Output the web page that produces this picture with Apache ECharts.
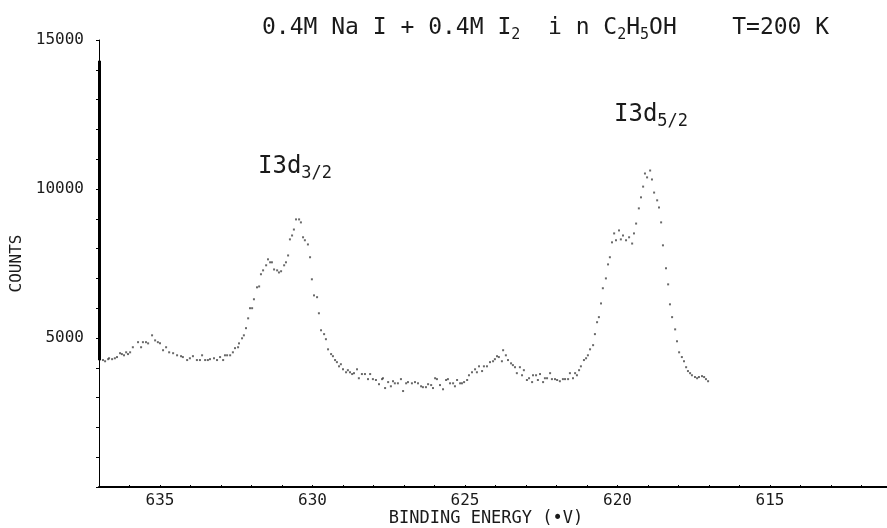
<!DOCTYPE html>
<html>
<head>
<meta charset="utf-8">
<script src="https://cdn.jsdelivr.net/npm/echarts@6/dist/echarts.min.js"></script>
<style>
html,body{margin:0;padding:0;background:#fff;}
#chart{width:887px;height:528px;}
</style>
</head>
<body>
<div id="chart"></div>
<script>
// Binding energy (eV) of each recorded point
const energy = [
636.97,636.87,636.80,636.70,636.67,636.57,636.48,636.41,636.31,636.25,
636.18,636.11,636.05,635.98,635.89,635.72,635.62,635.56,635.46,635.39,
635.26,635.16,635.07,635.00,634.90,634.80,634.70,634.57,634.44,634.31,
634.25,634.11,634.02,633.92,633.79,633.69,633.62,633.52,633.43,633.36,
633.23,633.13,633.03,632.93,632.87,632.80,632.70,632.61,632.54,632.44,
632.41,632.31,632.25,632.18,632.11,632.05,631.98,631.92,631.82,631.75,
631.69,631.62,631.52,631.46,631.39,631.33,631.26,631.16,631.10,631.03,
630.93,630.87,630.80,630.74,630.67,630.61,630.54,630.44,630.38,630.31,
630.25,630.15,630.08,630.02,629.95,629.85,629.79,629.72,629.62,629.56,
629.49,629.39,629.33,629.26,629.20,629.13,629.07,629.00,628.90,628.84,
628.77,628.70,628.64,628.54,628.48,628.38,628.28,628.18,628.11,628.02,
627.92,627.82,627.72,627.69,627.62,627.52,627.43,627.36,627.30,627.20,
627.10,627.03,626.93,626.87,626.74,626.64,626.54,626.44,626.38,626.28,
626.21,626.11,626.05,625.98,625.92,625.82,625.72,625.62,625.56,625.49,
625.39,625.33,625.26,625.16,625.10,625.03,624.93,624.87,624.77,624.67,
624.61,624.54,624.44,624.38,624.28,624.18,624.08,624.02,623.95,623.89,
623.79,623.75,623.66,623.59,623.49,623.43,623.36,623.30,623.20,623.13,
623.07,622.97,622.90,622.80,622.77,622.67,622.61,622.54,622.44,622.38,
622.31,622.21,622.15,622.05,621.98,621.89,621.79,621.72,621.62,621.56,
621.46,621.39,621.33,621.26,621.20,621.10,621.03,620.97,620.90,620.80,
620.74,620.67,620.61,620.54,620.48,620.38,620.31,620.25,620.18,620.11,
620.05,619.95,619.89,619.82,619.72,619.62,619.52,619.46,619.39,619.30,
619.23,619.16,619.10,619.03,618.93,618.87,618.80,618.70,618.64,618.57,
618.51,618.41,618.34,618.28,618.21,618.11,618.05,617.98,617.89,617.82,
617.75,617.69,617.62,617.56,617.46,617.39,617.33,617.23,617.16,617.10,
617.03
];
// Counts at each point
const counts = [
4290,4260,4220,4290,4320,4290,4320,4360,4490,4460,
4420,4520,4460,4520,4690,4860,4690,4860,4860,4820,
5090,4920,4860,4820,4590,4690,4520,4490,4420,4390,
4360,4260,4320,4390,4260,4260,4420,4260,4260,4290,
4320,4260,4360,4260,4420,4420,4420,4520,4660,4690,
4820,4990,5090,5330,5660,6000,6000,6300,6700,6730,
7140,7270,7440,7640,7540,7540,7300,7270,7200,7240,
7440,7540,7770,8310,8440,8640,8980,8980,8880,8380,
8280,8140,7710,6970,6430,6370,5830,5260,5130,4960,
4620,4460,4390,4260,4190,4050,4120,3950,3850,3920,
3850,3790,3820,3950,3650,3790,3790,3620,3790,3620,
3590,3450,3620,3650,3320,3520,3380,3550,3480,3480,
3620,3220,3480,3520,3480,3520,3480,3380,3350,3350,
3450,3420,3320,3650,3620,3420,3280,3590,3620,3480,
3480,3380,3590,3480,3480,3520,3590,3750,3850,3950,
3850,4050,3890,4050,4050,4190,4220,4290,4390,4360,
4220,4590,4420,4260,4150,4090,4020,3820,4020,3750,
3920,3590,3650,3520,3750,3750,3590,3790,3520,3650,
3650,3820,3620,3620,3590,3550,3620,3620,3620,3820,
3650,3820,3750,3920,4050,4260,4320,4420,4620,4760,
5130,5530,5700,6160,6670,7000,7470,7710,8210,8510,
8280,8610,8310,8440,8280,8380,8170,8510,8840,9350,
9720,10080,10520,10390,10620,10320,9880,9620,9380,8880,
8110,7340,6800,6130,5700,5290,4890,4520,4360,4220,
4020,3890,3820,3750,3690,3650,3690,3720,3690,3620,
3550
];
const xLabels = [615, 620, 625, 630, 635];
const yLabels = [5000, 10000, 15000];
const titleText = '0.4M Na I + 0.4M I{s|2}  i n C{s|2}H{s|5}OH    T=200 K';
const peak32 = 'I3d{s|3/2}';
const peak52 = 'I3d{s|5/2}';

const FONT = 'DejaVu Sans Mono';
const INK = '#1a1a1a';
const points = energy.map((e, i) => [e, counts[i]]);

const richSub = (base, sub) => ({
  fontFamily: FONT, fontSize: base, fontWeight: 'normal', color: INK, lineHeight: 30,
  rich: { s: { fontFamily: FONT, fontSize: sub, fontWeight: 'normal', color: INK, lineHeight: 14, verticalAlign: 'bottom' } }
});

const chart = echarts.init(document.getElementById('chart'), null, { renderer: 'canvas' });
chart.setOption({
  animation: false,
  backgroundColor: '#ffffff',
  title: [
    { text: titleText, left: 257, top: 8, textStyle: richSub(23, 15) },
    { text: peak32, left: 253, top: 147, textStyle: richSub(24, 17) },
    { text: peak52, left: 609, top: 95, textStyle: richSub(24, 17) }
  ],
  grid: { left: 99, top: 40, width: 793, height: 447, containLabel: false, outerBoundsMode: 'none' },
  xAxis: {
    type: 'value', inverse: true, min: 611, max: 637, interval: 1,
    name: 'BINDING ENERGY (\u2022V)', nameLocation: 'middle', nameGap: 23, nameMoveOverlap: false,
    nameTextStyle: { fontFamily: FONT, fontSize: 17, color: INK, padding: [0, 19, 0, 0] },
    axisLine: { show: true, lineStyle: { color: '#000', width: 2 } },
    axisTick: { show: true, inside: true, length: 2, lineStyle: { color: '#000', width: 1 } },
    axisLabel: {
      fontFamily: FONT, fontSize: 16, color: INK, margin: 6,
      formatter: v => xLabels.indexOf(v) >= 0 ? String(v) : ''
    },
    splitLine: { show: false }
  },
  yAxis: {
    type: 'value', min: 0, max: 15000, interval: 1000,
    name: 'COUNTS', nameLocation: 'middle', nameGap: 74, nameRotate: 90, nameMoveOverlap: false,
    nameTextStyle: { fontFamily: FONT, fontSize: 16, color: INK },
    axisLine: { show: true, lineStyle: { color: '#000', width: 1 } },
    axisTick: { show: true, inside: false, length: 3, lineStyle: { color: '#000', width: 1 } },
    axisLabel: {
      fontFamily: FONT, fontSize: 16, color: INK, margin: 15,
      formatter: v => yLabels.indexOf(v) >= 0 ? String(v) : ''
    },
    splitLine: { show: false }
  },
  series: [{
    type: 'scatter',
    data: points,
    symbol: 'rect',
    symbolSize: 2,
    itemStyle: { color: '#444444' },
    silent: true,
    markLine: {
      silent: true, symbol: 'none', label: { show: false },
      lineStyle: { color: '#000', width: 3, type: 'solid' },
      data: [[{ coord: [637, 14300] }, { coord: [637, 4250] }]]
    }
  }]
});
</script>
</body>
</html>
